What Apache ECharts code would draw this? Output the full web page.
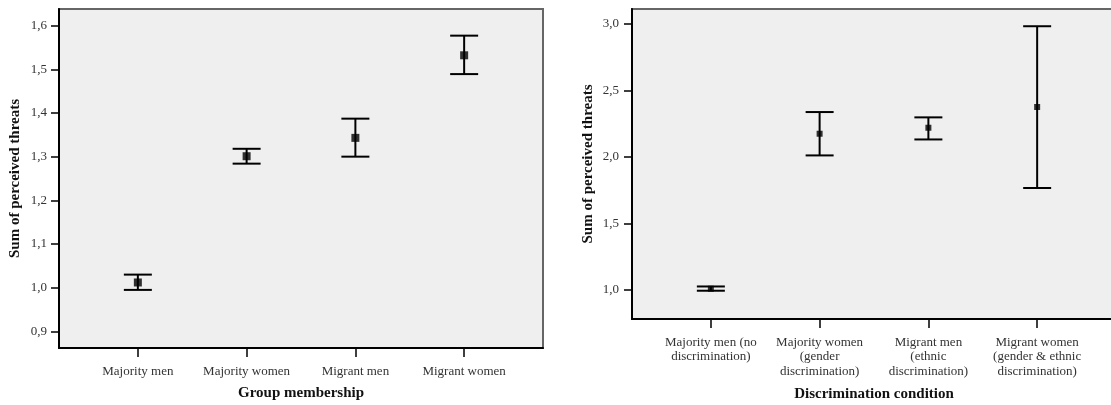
<!DOCTYPE html>
<html>
<head>
<meta charset="utf-8">
<script src="https://cdn.jsdelivr.net/npm/echarts@6/dist/echarts.min.js"></script>
<style>
  html, body { margin: 0; padding: 0; background: #ffffff; }
  #chart { width: 1111px; height: 405px; }
</style>
</head>
<body>
<div id="chart"></div>
<script>
// Panel 1: perceived threats by group membership (mean with error bar)
const groupCategories = ['Majority men', 'Majority women', 'Migrant men', 'Migrant women'];
const groupMeans = [1.012, 1.301, 1.343, 1.532];
const groupLow = [0.995, 1.284, 1.300, 1.489];
const groupHigh = [1.030, 1.318, 1.387, 1.577];
const groupTicks = [0.9, 1.0, 1.1, 1.2, 1.3, 1.4, 1.5, 1.6];

// Panel 2: perceived threats by discrimination condition
const conditionCategories = [
  'Majority men (no\ndiscrimination)',
  'Majority women\n(gender\ndiscrimination)',
  'Migrant men\n(ethnic\ndiscrimination)',
  'Migrant women\n(gender & ethnic\ndiscrimination)'
];
const conditionMeans = [1.010, 2.175, 2.220, 2.376];
const conditionLow = [0.995, 2.012, 2.132, 1.767];
const conditionHigh = [1.027, 2.338, 2.298, 2.983];
const conditionTicks = [1.0, 1.5, 2.0, 2.5, 3.0];

const FONT = '"Liberation Serif", "DejaVu Serif", serif';
const CAP = 14; // half width of the error-bar caps in px

const comma = v => v.toFixed(1).replace('.', ',');

function errorSeries(idx, low, high) {
  return {
    type: 'custom',
    xAxisIndex: idx, yAxisIndex: idx,
    data: low.map((l, i) => [i, l, high[i]]),
    renderItem: function (params, api) {
      const x = api.value(0);
      const lo = api.coord([x, api.value(1)]);
      const hi = api.coord([x, api.value(2)]);
      const st = { stroke: '#000', lineWidth: 2 };
      return {
        type: 'group',
        children: [
          { type: 'line', shape: { x1: lo[0], y1: lo[1], x2: hi[0], y2: hi[1] }, style: st },
          { type: 'line', shape: { x1: lo[0] - CAP, y1: lo[1], x2: lo[0] + CAP, y2: lo[1] }, style: st },
          { type: 'line', shape: { x1: hi[0] - CAP, y1: hi[1], x2: hi[0] + CAP, y2: hi[1] }, style: st }
        ]
      };
    },
    z: 3
  };
}

function meanSeries(idx, means, size) {
  return {
    type: 'scatter',
    xAxisIndex: idx, yAxisIndex: idx,
    data: means.map((m, i) => [i, m]),
    symbol: 'rect',
    symbolSize: size,
    itemStyle: { color: '#000' },
    z: 4
  };
}

function xAxis(idx, cats, name, nameGap, labelMargin) {
  return {
    type: 'value', gridIndex: idx,
    min: -0.725, max: 3.725,
    name: name, nameLocation: 'middle', nameGap: nameGap,
    nameTextStyle: { fontFamily: FONT, fontSize: 15, fontWeight: 'bold', color: '#111' },
    axisLine: { show: true, onZero: false, lineStyle: { color: '#000', width: 2 } },
    axisTick: { show: true, length: 9, customValues: [0, 1, 2, 3], lineStyle: { color: '#000', width: 1.5 } },
    axisLabel: {
      customValues: [0, 1, 2, 3],
      formatter: v => cats[Math.round(v)],
      fontFamily: FONT, fontSize: 13, color: '#333', lineHeight: 14.5, margin: labelMargin, align: 'center'
    },
    splitLine: { show: false }
  };
}

function yAxis(idx, min, max, ticks, labelMargin) {
  return {
    type: 'value', gridIndex: idx,
    min: min, max: max,
    name: 'Sum of perceived threats', nameLocation: 'middle', nameGap: 36, nameRotate: 90,
    nameTextStyle: { fontFamily: FONT, fontSize: 15, fontWeight: 'bold', color: '#111' },
    axisLine: { show: true, onZero: false, lineStyle: { color: '#000', width: 2 } },
    axisTick: { show: true, length: 8, customValues: ticks, lineStyle: { color: '#000', width: 1.5 } },
    axisLabel: {
      customValues: ticks, formatter: v => comma(v),
      fontFamily: FONT, fontSize: 13, color: '#333', margin: labelMargin
    },
    splitLine: { show: false }
  };
}

const chart = echarts.init(document.getElementById('chart'), null, { renderer: 'canvas' });
chart.setOption({
  animation: false,
  backgroundColor: '#ffffff',
  grid: [
    { left: 59, top: 9, width: 484, height: 339, outerBoundsMode: 'none', containLabel: false,
      show: true, backgroundColor: '#efefef', borderColor: '#666', borderWidth: 2 },
    { left: 632, top: 9, width: 484, height: 310, outerBoundsMode: 'none', containLabel: false,
      show: true, backgroundColor: '#efefef', borderColor: '#666', borderWidth: 2 }
  ],
  xAxis: [
    xAxis(0, groupCategories, 'Group membership', 38, 16),
    xAxis(1, conditionCategories, 'Discrimination condition', 68, 16)
  ],
  yAxis: [
    yAxis(0, 0.862, 1.638, groupTicks, 12),
    yAxis(1, 0.7825, 3.1125, conditionTicks, 13)
  ],
  series: [
    errorSeries(0, groupLow, groupHigh),
    meanSeries(0, groupMeans, 8),
    errorSeries(1, conditionLow, conditionHigh),
    meanSeries(1, conditionMeans, 6)
  ]
});
</script>
</body>
</html>
